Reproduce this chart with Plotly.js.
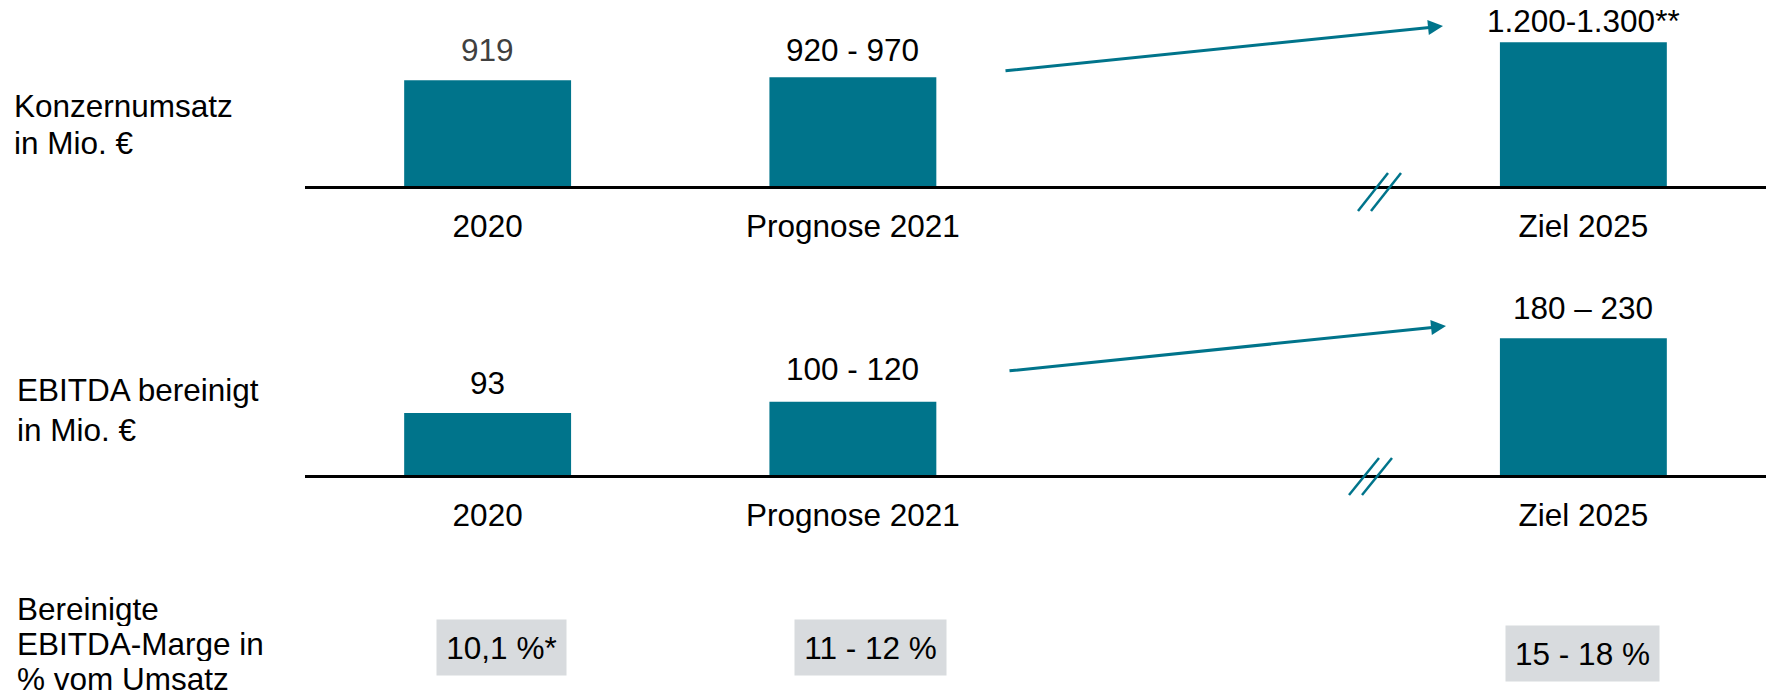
<!DOCTYPE html>
<html>
<head>
<meta charset="utf-8">
<script src="https://cdn.plot.ly/plotly-3.0.1.min.js"></script>
<style>html,body{margin:0;padding:0;background:#fff;}#chart{width:1770px;height:697px;}</style>
</head>
<body>
<div id="chart"></div>
<script>
// ---- data ----
const categories = ["2020", "Prognose 2021", "Ziel 2025"];
const umsatzValues = [919, 945, 1250];
const umsatzLabels = ["919", "920 - 970", "1.200-1.300**"];
const ebitdaValues = [93, 110, 205];
const ebitdaLabels = ["93", "100 - 120", "180 – 230"];
const margeLabels = ["10,1 %*", "11 - 12 %", "15 - 18 %"];
const rowTitleUmsatz = ["Konzernumsatz", "in Mio. €"];
const rowTitleEbitda = ["EBITDA bereinigt", "in Mio. €"];
const rowTitleMarge = ["Bereinigte", "EBITDA-Marge in", "% vom Umsatz"];

// ---- layout helpers ----
const W = 1770, H = 697;
const px = x => x / W;
const py = y => 1 - y / H;
const TEAL = "#00748B";
const GREY = "#D8DBDE";
const FONT = "Liberation Sans, Arial, sans-serif";
const FS = 31.5;

// category order with a gap slot before the 2025 target
const axisOrder = [categories[0], categories[1], " ", categories[2]];
const slot = c => axisOrder.indexOf(c);

const xAxisBase = {
  type: "category",
  categoryorder: "array",
  categoryarray: axisOrder,
  range: [-0.5, 3.5],
  domain: [px(305), px(1766)],
  showline: true, linecolor: "#000", linewidth: 3,
  showgrid: false, zeroline: false,
  ticks: "outside", ticklen: 10, tickcolor: "rgba(0,0,0,0)",
  tickfont: {family: FONT, size: FS, color: "#000"},
  fixedrange: true
};

const traces = [
  {type: "bar", x: categories, y: umsatzValues, xaxis: "x", yaxis: "y",
   width: 0.457, marker: {color: TEAL}, hoverinfo: "skip"},
  {type: "bar", x: categories, y: ebitdaValues, xaxis: "x2", yaxis: "y2",
   width: 0.457, marker: {color: TEAL}, hoverinfo: "skip"}
];

const annotations = [];
const topShift = [30, 27, 21];
const botShift = [30, 33, 30];
categories.forEach((c, i) => {
  annotations.push({xref: "x", yref: "y", x: slot(c), y: umsatzValues[i], text: umsatzLabels[i],
    showarrow: false, yanchor: "middle", yshift: topShift[i],
    font: {family: FONT, size: FS, color: i === 0 ? "#404040" : "#000"}});
  annotations.push({xref: "x2", yref: "y2", x: slot(c), y: ebitdaValues[i], text: ebitdaLabels[i],
    showarrow: false, yanchor: "middle", yshift: botShift[i],
    font: {family: FONT, size: FS, color: "#000"}});
});

// margin boxes
const boxW = [129, 151, 153];
const boxXShift = [14, 18, -1];
const boxCY = [647.5, 647.5, 653.5];
categories.forEach((c, i) => {
  annotations.push({xref: "x2", yref: "paper", x: slot(c), y: py(boxCY[i]), text: margeLabels[i],
    showarrow: false, xanchor: "center", yanchor: "middle", xshift: boxXShift[i],
    width: boxW[i], height: 55, borderpad: 0, bgcolor: GREY,
    font: {family: FONT, size: FS, color: "#000"}});
});

// row titles
function rowTitle(lines, x, ys, h) {
  lines.forEach((t, i) => {
    const a = {xref: "paper", yref: "paper", x: px(x), y: py(ys[i]),
      text: t, showarrow: false, xanchor: "left", yanchor: "middle",
      font: {family: FONT, size: FS, color: "#000"}};
    if (h) { a.height = h; a.borderpad = 0; }
    annotations.push(a);
  });
}
rowTitle(rowTitleUmsatz, 12, [105.5, 143]);
rowTitle(rowTitleEbitda, 15, [390, 430]);
rowTitle(rowTitleMarge, 16, [609, 644, 679], 34);

// growth arrows
[[1443, 26, 1004, 71], [1446, 326, 1008, 371]].forEach(a => {
  annotations.push({xref: "paper", yref: "paper", x: px(a[0]), y: py(a[1]), text: "",
    showarrow: true, axref: "pixel", ayref: "pixel", ax: a[2] - a[0], ay: a[3] - a[1],
    arrowhead: 2, arrowsize: 1, arrowwidth: 3, arrowcolor: TEAL, standoff: 0});
});

// axis break marks
const shapes = [];
[[1358, 211, 1388, 173], [1371, 211, 1401, 173], [1349, 495, 1379, 458], [1362, 495, 1392, 458]].forEach(s => {
  shapes.push({type: "line", xref: "paper", yref: "paper", x0: px(s[0]), y0: py(s[1]),
    x1: px(s[2]), y1: py(s[3]), line: {color: TEAL, width: 2.5}});
});

const layout = {
  width: W, height: H,
  margin: {l: 0, r: 0, t: 0, b: 0},
  paper_bgcolor: "#fff", plot_bgcolor: "rgba(0,0,0,0)",
  showlegend: false, hovermode: false,
  font: {family: FONT, size: FS, color: "#000"},
  xaxis: Object.assign({}, xAxisBase, {anchor: "y"}),
  yaxis: {domain: [py(186), 1], range: [0, 186 / 0.115], visible: false, fixedrange: true},
  xaxis2: Object.assign({}, xAxisBase, {anchor: "y2"}),
  yaxis2: {domain: [py(475), py(290)], range: [0, 185 / 0.667], visible: false, fixedrange: true},
  annotations: annotations,
  shapes: shapes
};

Plotly.newPlot("chart", traces, layout, {staticPlot: true, displayModeBar: false});
</script>
</body>
</html>
